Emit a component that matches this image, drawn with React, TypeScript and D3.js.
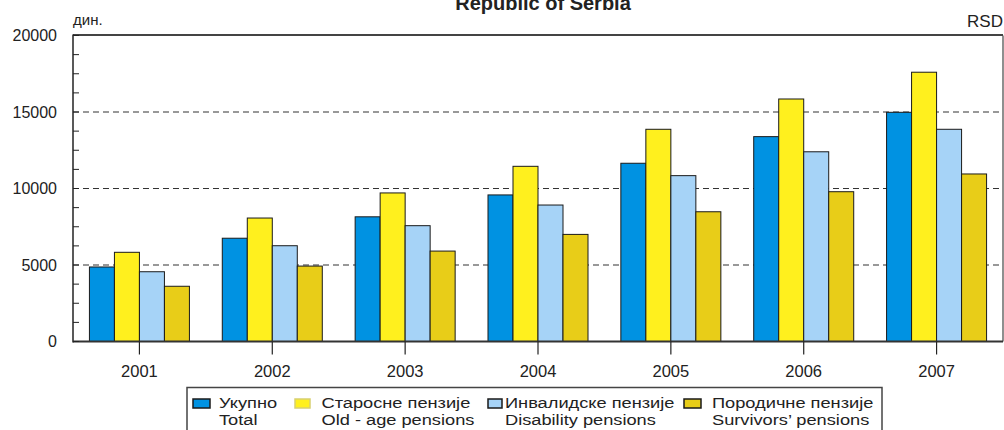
import React from "react";
import * as d3 from "d3";

const years = ["2001", "2002", "2003", "2004", "2005", "2006", "2007"];
const total = [4870, 6750, 8150, 9580, 11650, 13390, 14980];
const oldAge = [5830, 8070, 9710, 11450, 13870, 15850, 17600];
const disability = [4560, 6260, 7570, 8920, 10840, 12400, 13870];
const survivors = [3610, 4930, 5910, 7000, 8480, 9790, 10950];
const yTicks = [0, 5000, 10000, 15000, 20000];
const seriesKeys = ["total", "oldAge", "disability", "survivors"];
const seriesLabels = [
  ["Укупно", "Total"],
  ["Старосне пензије", "Old - age pensions"],
  ["Инвалидске пензије", "Disability pensions"],
  ["Породичне пензије", "Survivors’ pensions"],
];
const colors = ["#0092E2", "#FFF01E", "#A6D3F7", "#E8CD18"];

const W = 1004;
const H = 430;
const left = 73;
const right = 1003;
const top = 35.5;
const bottom = 341.5;
const font = "'Liberation Sans', Arial, Helvetica, sans-serif";
const textColor = "#222";

export default function App() {
  const values = [total, oldAge, disability, survivors];
  const x0 = d3.scaleBand<string>().domain(years).range([left, right]).paddingInner(0.2473).paddingOuter(0.2473 / 2);
  const x1 = d3.scaleBand<string>().domain(seriesKeys).range([0, x0.bandwidth()]).padding(0);
  const y = d3.scaleLinear().domain([0, 20000]).range([bottom, top]);
  const minor = d3.range(0, 20001, 1250);

  const legendX = [193, 295, 488, 684];
  const legendTextX = [219, 321.5, 505, 712];
  const swW = [17, 15, 14, 17];
  const sx = 1.2;

  return (
    <svg width={W} height={H} style={{ position: "absolute", left: 0, top: 0, background: "#fff" }} fontFamily={font}>
      <rect x={0} y={0} width={W} height={H} fill="#fff" />
      {/* title */}
      <text x={543} y={10} textAnchor="middle" fontSize={20} fontWeight="bold" fill={textColor}>
        Republic of Serbia
      </text>
      <text x={73} y={25} fontSize={15} fill={textColor}>дин.</text>
      <text x={1003} y={27} fontSize={17} textAnchor="end" fill={textColor}>RSD</text>

      {/* grid lines */}
      {yTicks.filter((t) => t > 0 && t < 20000).map((t) => (
        <line key={"g" + t} x1={left} x2={right} y1={y(t)} y2={y(t)} stroke="#333" strokeWidth={1.2} strokeDasharray="6,4" />
      ))}

      {/* bars */}
      {years.map((yr, i) => (
        <g key={yr} transform={`translate(${x0(yr)},0)`}>
          {seriesKeys.map((k, j) => (
            <rect
              key={k}
              x={x1(k)}
              y={y(values[j][i])}
              width={x1.bandwidth()}
              height={bottom - y(values[j][i])}
              fill={colors[j]}
              stroke="#1a1a1a"
              strokeWidth={1}
            />
          ))}
        </g>
      ))}

      {/* frame */}
      <line x1={left} x2={right} y1={top - 0.5} y2={top - 0.5} stroke="#444" strokeWidth={1.8} />
      <line x1={right} x2={right} y1={top} y2={bottom} stroke="#444" strokeWidth={1.2} />
      <line x1={left} x2={left} y1={top - 1} y2={bottom + 1} stroke="#222" strokeWidth={1.5} />
      <line x1={left} x2={right} y1={bottom} y2={bottom} stroke="#333" strokeWidth={1.8} />

      {/* y minor ticks */}
      {minor.map((t) => (
        <line key={"m" + t} x1={left} x2={left + 6} y1={y(t)} y2={y(t)} stroke="#222" strokeWidth={1} />
      ))}
      {/* y labels */}
      {yTicks.map((t) => (
        <text key={"yl" + t} x={57} y={y(t) + 5.5} textAnchor="end" fontSize={16} fill={textColor}>
          {t}
        </text>
      ))}

      {/* x ticks and labels */}
      {years.map((yr) => {
        const cx = (x0(yr) as number) + x0.bandwidth() / 2;
        return (
          <g key={"x" + yr}>
            <line x1={cx} x2={cx} y1={bottom} y2={bottom + 13} stroke="#222" strokeWidth={1.2} />
            <text x={cx} y={377} textAnchor="middle" fontSize={16.5} fill={textColor}>
              {yr}
            </text>
          </g>
        );
      })}

      {/* legend */}
      <rect x={187} y={387.5} width={695} height={50} fill="#fff" stroke="#444" strokeWidth={1.5} />
      {seriesLabels.map((lab, j) => (
        <g key={"lg" + j}>
          <rect x={legendX[j]} y={399} width={swW[j]} height={9} fill={colors[j]} stroke={j === 1 ? "#d8d070" : "#1a1a1a"} strokeWidth={1.5} />
          <text transform={`translate(${legendTextX[j]},408) scale(${sx},1)`} fontSize={15.2} fill={textColor}>{lab[0]}</text>
          <text transform={`translate(${legendTextX[j]},425) scale(${sx},1)`} fontSize={15.2} fill={textColor}>{lab[1]}</text>
        </g>
      ))}
    </svg>
  );
}
